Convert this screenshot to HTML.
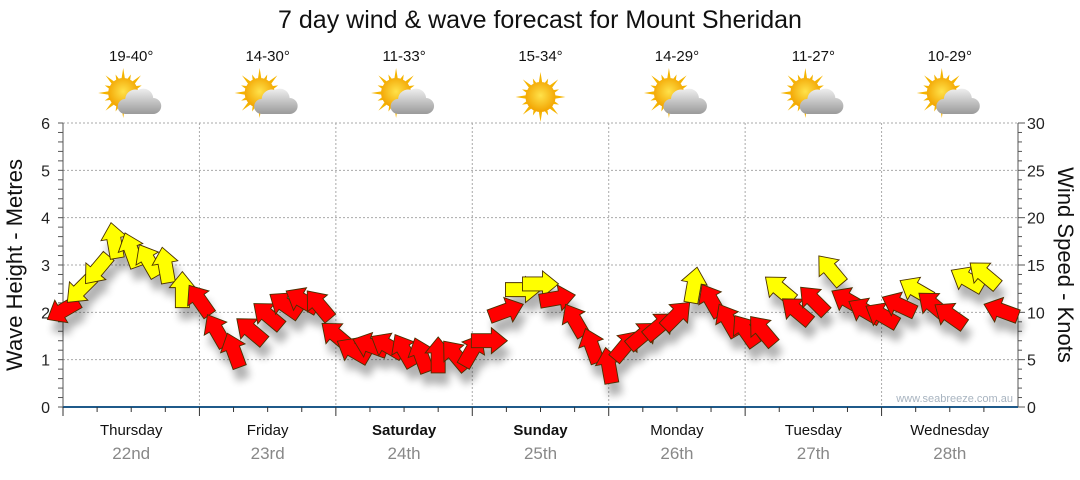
<!DOCTYPE html>
<html><head><meta charset="utf-8"><style>
body{margin:0;background:#fff;font-family:"Liberation Sans",sans-serif;}
svg text{font-family:"Liberation Sans",sans-serif;}
</style></head><body>
<svg id="c" width="1080" height="475" xmlns="http://www.w3.org/2000/svg">
<defs>
<filter id="sh" x="-50%" y="-50%" width="200%" height="200%"><feGaussianBlur stdDeviation="4"/></filter>
<radialGradient id="sun" cx="50%" cy="45%" r="55%"><stop offset="0" stop-color="#ffe24a"/><stop offset="1" stop-color="#f2a300"/></radialGradient>
<linearGradient id="cl" x1="0" y1="0" x2="0" y2="1"><stop offset="0" stop-color="#eee"/><stop offset="1" stop-color="#9a9a9a"/></linearGradient>
</defs>
<text x="540" y="28" text-anchor="middle" font-size="25" fill="#111">7 day wind &amp; wave forecast for Mount Sheridan</text>
<g id="grid"></g><g id="axes"></g><g id="icons"></g><g id="shadows" filter="url(#sh)" opacity="0.3"></g><g id="arrows"></g>
<text x="1013" y="402" text-anchor="end" font-size="11" fill="#a8b4c0">www.seabreeze.com.au</text>
<text transform="translate(22,265) rotate(-90)" text-anchor="middle" font-size="22" fill="#111">Wave Height - Metres</text>
<text transform="translate(1058,265) rotate(90)" text-anchor="middle" font-size="22" fill="#111">Wind Speed - Knots</text>
</svg>
<script>
const days=["Thursday","Friday","Saturday","Sunday","Monday","Tuesday","Wednesday"];
const dates=["22nd","23rd","24th","25th","26th","27th","28th"];
const temps=["19-40°","14-30°","11-33°","15-34°","14-29°","11-27°","10-29°"];
const icons=["partly","partly","partly","sunny","partly","partly","partly"];
const waveTicks=[0,1,2,3,4,5,6];
const windTicks=[0,5,10,15,20,25,30];
// wind speed (knots) at 3-hourly steps starting Thursday 00:00
const windSpeed=[10.2,12.4,14.5,17.6,16.6,15.5,15,12.4,
11.3,8.1,6,8.1,9.7,10.8,11.3,10.8,
7.6,6,6.5,6.5,6,5.5,5.5,5.5,
6,7,10.2,12.4,13,11.5,9.2,6.5,
4.4,6.5,7.6,8.6,9.7,12.9,11.3,9.2,
8.1,8.1,12.5,10.2,11.3,14.5,11.3,10.2,
9.7,10.8,12.4,10.8,9.7,13.5,14,10.2];
// arrow direction (screen degrees, 0 = pointing right, -90 = pointing up)
const windDir=[150,135,130,-100,-110,-120,-100,-90,
-125,-120,-110,-140,-140,-145,-150,-130,
-140,-150,-160,-150,-120,-110,-90,-130,
-60,0,-20,0,0,-10,-120,-110,
-100,-50,-40,-40,-45,-80,-120,-120,
-125,-130,-140,-140,-135,-130,-150,-150,
-150,-155,-150,-140,-145,-150,-140,-160];
const X0=63,X1=1018,Y0=407,Y1=123;
const dayW=(X1-X0)/7;
const xT=i=>X0+i*dayW/8;
const yW=v=>Y0-(v/6)*(Y0-Y1);
const yK=v=>Y0-(v/30)*(Y0-Y1);
const NS="http://www.w3.org/2000/svg";
function mk(tag,attrs,parent,txt){const e=document.createElementNS(NS,tag);for(const k in attrs)e.setAttribute(k,attrs[k]);if(txt!==undefined)e.textContent=txt;parent.appendChild(e);return e;}
const grid=document.getElementById('grid'),axes=document.getElementById('axes'),ic=document.getElementById('icons');
waveTicks.forEach(v=>{
 if(v>0){const l=mk('line',{x1:X0,x2:X1,y1:yW(v),y2:yW(v),stroke:'#aaa','stroke-dasharray':'2,2'},grid);
 
 }
 const t=mk('text',{x:50,y:yW(v)+6,'text-anchor':'end','font-size':16,fill:'#222'},axes,String(v));
 
 
});
for(let i=0;i<=30;i++){const y=Y0-i/30*(Y0-Y1);mk('line',{x1:X0-5,x2:X0,y1:y,y2:y,stroke:'#555'},axes);mk('line',{x1:X1,x2:X1+(i%5?4:7),y1:y,y2:y,stroke:'#555'},axes);}
windTicks.forEach(v=>{
 const t=mk('text',{x:1027,y:yK(v)+6,'font-size':16,fill:'#222'},axes,String(v));
 
 
});
mk('line',{x1:X0,x2:X0,y1:Y1,y2:Y0,stroke:'#555'},axes);
mk('line',{x1:X1,x2:X1,y1:Y1,y2:Y0,stroke:'#555'},axes);
mk('line',{x1:X0,x2:X1,y1:Y0,y2:Y0,stroke:'#1f5a8a','stroke-width':2},axes);
for(let d=0;d<7;d++){
 const xc=X0+(d+0.5)*dayW;
 if(d>0){const g=mk('line',{x1:X0+d*dayW,x2:X0+d*dayW,y1:Y1,y2:Y0,stroke:'#aaa','stroke-dasharray':'2,2'},grid);
 
 }
 for(let q=0;q<4;q++){const x=X0+d*dayW+q*dayW/4;mk('line',{x1:x,x2:x,y1:Y0,y2:Y0+(q?5:9),stroke:'#333'},axes);}
 const dn=mk('text',{x:xc,y:435,'text-anchor':'middle','font-size':15,fill:'#111','font-weight':(d==2||d==3)?'bold':'normal'},axes,days[d]);
 
 
 const dt=mk('text',{x:xc,y:459,'text-anchor':'middle','font-size':17,fill:'#888'},axes,dates[d]);
 
 
 const tt=mk('text',{x:xc,y:61,'text-anchor':'middle','font-size':15,fill:'#111'},ic,temps[d]);
 
 
 const g=mk('g',{transform:`translate(${xc},97)`},ic);
 
 
 const sx=icons[d]=='sunny'?0:-8,sy=icons[d]=='sunny'?0:-4;
 for(let a=0;a<16;a++){const an=a*Math.PI/8,r1=13,r2=a%2?20:25;
  mk('polygon',{points:`${sx+Math.cos(an-0.15)*r1},${sy+Math.sin(an-0.15)*r1} ${sx+Math.cos(an)*r2},${sy+Math.sin(an)*r2} ${sx+Math.cos(an+0.15)*r1},${sy+Math.sin(an+0.15)*r1}`,fill:'#f5b400'},g);}
 mk('circle',{cx:sx,cy:sy,r:15,fill:'url(#sun)'},g);
 if(icons[d]!='sunny'){mk('path',{d:'M-6,17 h28 a8,8 0 0 0 0,-16 a10,10 0 0 0 -15,-8 a10,10 0 0 0 -13,9 a7.5,7.5 0 0 0 0,15 z',fill:'url(#cl)'},g);}
}
const arr=document.getElementById('arrows'),sh=document.getElementById('shadows');
const shape="-18,-7 2,-7 2,-13 18,0 2,13 2,7 -18,7";
windSpeed.forEach((v,i)=>{
 const x=xT(i),y=yK(v),a=windDir[i];
 mk('polygon',{points:shape,transform:`translate(${x+4},${y+12}) rotate(${a})`,fill:'#000'},sh);
 const p=mk('polygon',{points:shape,transform:`translate(${x},${y}) rotate(${a})`,fill:v>=12?'#ffff00':'#ff0000',stroke:'#4a3000','stroke-width':0.9},arr);
 
 
});
</script>
</body></html>
